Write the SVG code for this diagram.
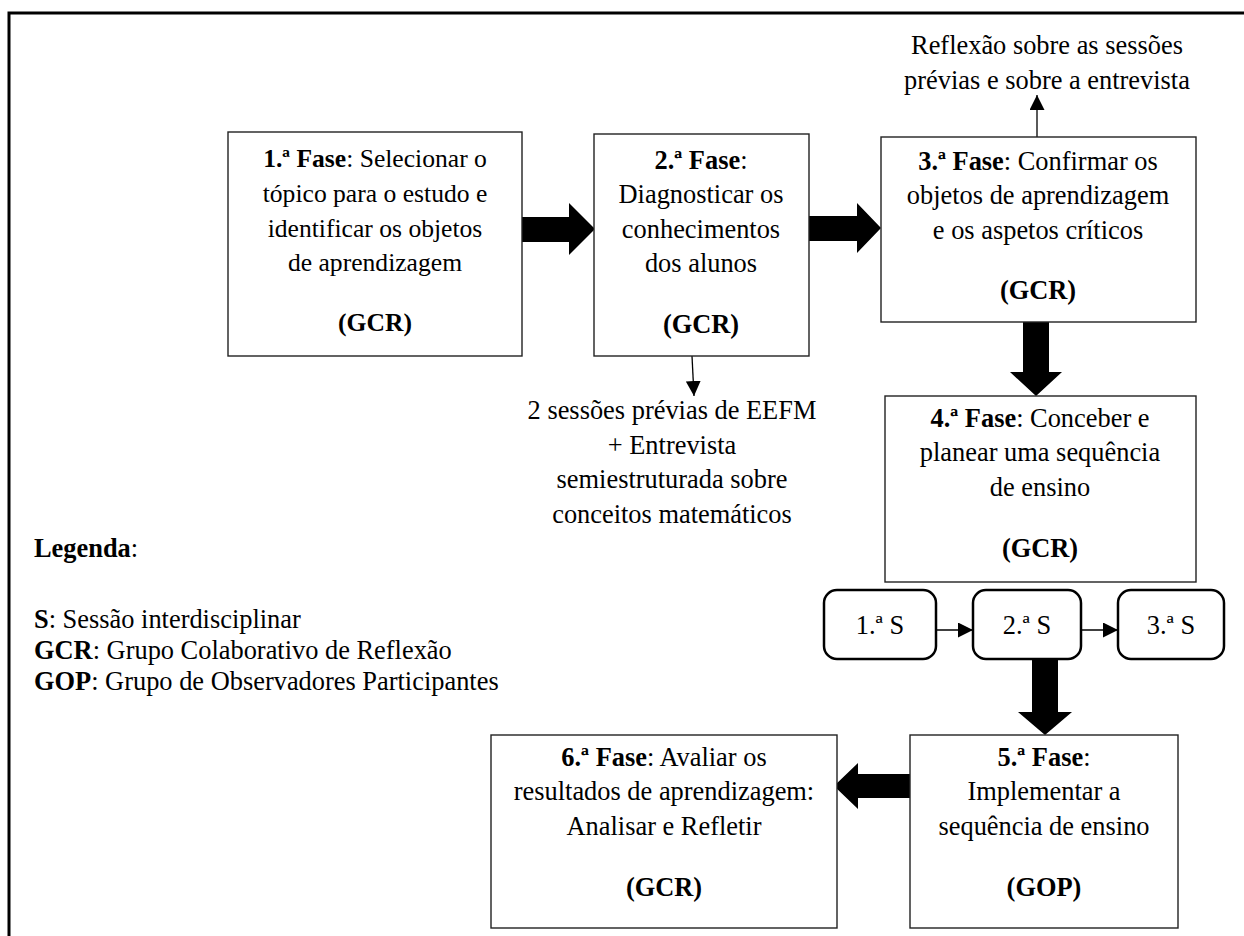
<svg xmlns="http://www.w3.org/2000/svg" width="1244" height="936" viewBox="0 0 1244 936">
<style>
text{font-family:"Liberation Serif","Times New Roman",serif;font-size:26.4px;fill:#000}
.c{text-anchor:middle}
.b{font-weight:bold}
.s1{font-size:25.6px}
.box{fill:#fff;stroke:#222;stroke-width:1.4}
.sbox{fill:#fff;stroke:#000;stroke-width:2.5}
.fat{fill:#000;stroke:none}
.thin{stroke:#000;stroke-width:1.3;fill:none}
</style>
<defs>
<marker id="ah" viewBox="0 0 10 10" refX="10" refY="5" markerWidth="15" markerHeight="15" markerUnits="userSpaceOnUse" orient="auto"><path d="M0,0 L10,5 L0,10 z" fill="#000"/></marker>
</defs>
<rect width="1244" height="936" fill="#fff"/>
<path d="M9,936 V13 H1244" fill="none" stroke="#000" stroke-width="3"/>

<g id="connectors">
<path class="fat" d="M522,217 H569 V203 L595,229 L569,255 V242 H522 z"/>
<path class="fat" d="M809,216 H857 V203 L881,228 L857,253 V241 H809 z"/>
<path class="fat" d="M1023,322 V372 H1010 L1036,396 L1062,372 H1049 V322 z"/>
<path class="fat" d="M1032,659 V712 H1018 L1045,735 L1072,712 H1058 V659 z"/>
<path class="fat" d="M910,774 H858 V763 L834,786 L858,809 V798 H910 z"/>
<line class="thin" x1="1037" y1="137" x2="1037" y2="95" marker-end="url(#ah)"/>
<line class="thin" x1="692" y1="356" x2="694" y2="396" marker-end="url(#ah)"/>
<line class="thin" x1="936" y1="630" x2="973" y2="630" marker-end="url(#ah)"/>
<line class="thin" x1="1081" y1="630" x2="1118" y2="630" marker-end="url(#ah)"/>
</g>

<g id="phase1">
<rect class="box" x="228" y="132" width="294" height="224"/>
<text class="c s1" x="375" y="167"><tspan class="b">1.ª Fase</tspan>: Selecionar o</text>
<text class="c s1" x="375" y="202">tópico para o estudo e</text>
<text class="c s1" x="375" y="237">identificar os objetos</text>
<text class="c s1" x="375" y="271">de aprendizagem</text>
<text class="c s1 b" x="375" y="331">(GCR)</text>
</g>

<g id="phase2">
<rect class="box" x="594" y="134" width="215" height="222"/>
<text class="c" x="701" y="169"><tspan class="b">2.ª Fase</tspan>:</text>
<text class="c" x="701" y="203">Diagnosticar os</text>
<text class="c" x="701" y="238">conhecimentos</text>
<text class="c" x="701" y="272">dos alunos</text>
<text class="c b" x="701" y="333">(GCR)</text>
</g>

<g id="phase3">
<rect class="box" x="881" y="137" width="315" height="185"/>
<text class="c" x="1038" y="170"><tspan class="b">3.ª Fase</tspan>: Confirmar os</text>
<text class="c" x="1038" y="204">objetos de aprendizagem</text>
<text class="c" x="1038" y="239">e os aspetos críticos</text>
<text class="c b" x="1038" y="299">(GCR)</text>
</g>

<g id="reflexao">
<text class="c" x="1047" y="54">Reflexão sobre as sessões</text>
<text class="c" x="1047" y="89">prévias e sobre a entrevista</text>
</g>

<g id="sessoes-previas">
<text class="c" x="672" y="419">2 sessões prévias de EEFM</text>
<text class="c" x="672" y="454">+ Entrevista</text>
<text class="c" x="672" y="488">semiestruturada sobre</text>
<text class="c" x="672" y="523">conceitos matemáticos</text>
</g>

<g id="phase4">
<rect class="box" x="885" y="396" width="311" height="186"/>
<text class="c" x="1040" y="427"><tspan class="b">4.ª Fase</tspan>: Conceber e</text>
<text class="c" x="1040" y="461">planear uma sequência</text>
<text class="c" x="1040" y="496">de ensino</text>
<text class="c b" x="1040" y="557">(GCR)</text>
</g>

<g id="s1">
<rect class="sbox" x="824" y="590" width="112" height="69" rx="13"/>
<text class="c" x="880" y="634">1.ª S</text>
</g>
<g id="s2">
<rect class="sbox" x="973" y="590" width="108" height="69" rx="13"/>
<text class="c" x="1027" y="634">2.ª S</text>
</g>
<g id="s3">
<rect class="sbox" x="1118" y="590" width="106" height="69" rx="13"/>
<text class="c" x="1171" y="634">3.ª S</text>
</g>

<g id="phase5">
<rect class="box" x="910" y="735" width="268" height="193"/>
<text class="c" x="1044" y="766"><tspan class="b">5.ª Fase</tspan>:</text>
<text class="c" x="1044" y="800">Implementar a</text>
<text class="c" x="1044" y="835">sequência de ensino</text>
<text class="c b" x="1044" y="896">(GOP)</text>
</g>

<g id="phase6">
<rect class="box" x="491" y="735" width="346" height="193"/>
<text class="c" x="664" y="766"><tspan class="b">6.ª Fase</tspan>: Avaliar os</text>
<text class="c" x="664" y="800">resultados de aprendizagem:</text>
<text class="c" x="664" y="835">Analisar e Refletir</text>
<text class="c b" x="664" y="896">(GCR)</text>
</g>

<g id="legenda">
<text x="34" y="557"><tspan class="b">Legenda</tspan>:</text>
<text x="34" y="628"><tspan class="b">S</tspan>: Sessão interdisciplinar</text>
<text x="34" y="659"><tspan class="b">GCR</tspan>: Grupo Colaborativo de Reflexão</text>
<text x="34" y="690"><tspan class="b">GOP</tspan>: Grupo de Observadores Participantes</text>
</g>
</svg>
